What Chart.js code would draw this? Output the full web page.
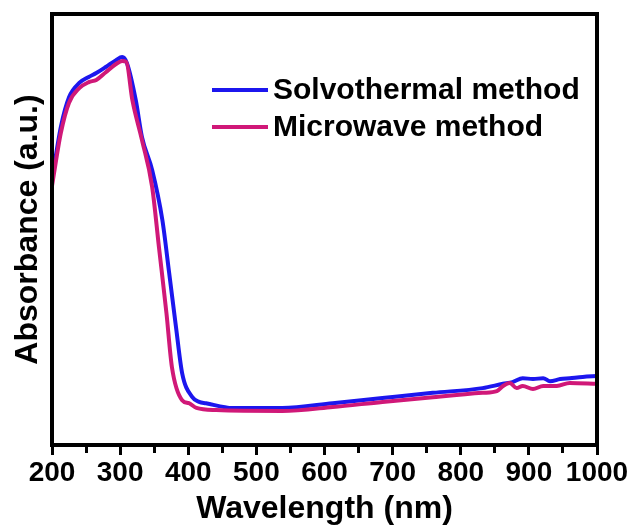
<!DOCTYPE html>
<html>
<head>
<meta charset="utf-8">
<script src="https://cdn.jsdelivr.net/npm/chart.js@4.4.0/dist/chart.umd.min.js"></script>
<style>
  html, body { margin: 0; padding: 0; background: #fff; }
  #wrap { width: 633px; height: 527px; }
</style>
</head>
<body>
<div id="wrap"><canvas id="uvChart" width="633" height="527"></canvas></div>
<script>
// UV-vis absorbance (arbitrary units, 0-100)
const seriesNames = ['Solvothermal method', 'Microwave method'];

const solvoWavelength = [200, 213, 225, 240, 254, 265, 279, 294, 303, 310, 323, 332, 347, 362, 372, 382, 391, 406, 416, 426, 465, 538, 612, 685, 759, 832, 862, 876, 891, 906, 921, 931, 946, 960, 979, 1000];
const solvoAbsorbance = [61.5, 73.8, 80.7, 84.0, 85.4, 86.3, 87.7, 89.3, 90.0, 88.6, 80.0, 71.5, 63.8, 52.2, 39.9, 27.4, 16.7, 11.1, 10.0, 9.7, 8.6, 8.6, 9.7, 10.9, 12.1, 13.2, 14.2, 14.6, 15.5, 15.3, 15.5, 14.8, 15.3, 15.5, 15.8, 16.0];

const microWavelength = [200, 213, 225, 240, 254, 265, 279, 294, 303, 309, 318, 332, 347, 357, 368, 376, 391, 401, 412, 441, 538, 612, 685, 759, 832, 853, 862, 872, 882, 891, 906, 921, 941, 960, 1000];
const microAbsorbance = [60.1, 72.4, 79.4, 82.8, 84.2, 84.7, 86.5, 88.4, 89.1, 88.9, 80.0, 70.8, 59.9, 45.9, 30.6, 18.1, 10.4, 9.7, 8.6, 8.1, 7.9, 8.8, 10.0, 11.1, 12.1, 12.5, 13.7, 14.4, 13.2, 13.7, 13.0, 13.7, 13.7, 14.4, 14.2];

const xMin = 200, xMax = 1000, xStep = 50;

const FONT = "'Liberation Sans', Arial, sans-serif";

function toPoints(xs, ys) {
    return xs.map((x, i) => ({ x: x, y: ys[i] }));
}

// black frame round the plot area
const framePlugin = {
    id: 'frame',
    afterDatasetsDraw(chart) {
        const a = chart.chartArea;
        const ctx = chart.ctx;
        ctx.save();
        ctx.strokeStyle = '#000';
        ctx.lineWidth = 4;
        ctx.strokeRect(a.left, a.top, a.right - a.left, a.bottom - a.top);
        ctx.restore();
    }
};

// legend drawn inside the plot, top right
const insideLegend = {
    id: 'insideLegend',
    afterDatasetsDraw(chart, args, opts) {
        const ctx = chart.ctx;
        ctx.save();
        ctx.font = 'bold 30px ' + FONT;
        ctx.textBaseline = 'middle';
        ctx.textAlign = 'left';
        chart.data.datasets.forEach((ds, i) => {
            const y = opts.y + i * opts.rowGap;
            ctx.strokeStyle = ds.borderColor;
            ctx.lineWidth = 4;
            ctx.beginPath();
            ctx.moveTo(opts.x, y);
            ctx.lineTo(opts.x + opts.lineLen, y);
            ctx.stroke();
            ctx.fillStyle = '#000';
            ctx.fillText(ds.label, opts.x + opts.lineLen + 5, y + 1);
        });
        ctx.restore();
    }
};

const ctx = document.getElementById('uvChart').getContext('2d');
new Chart(ctx, {
    type: 'line',
    data: {
        datasets: [
            {
                label: seriesNames[0],
                data: toPoints(solvoWavelength, solvoAbsorbance),
                borderColor: 'rgb(28, 22, 238)',
                borderWidth: 4,
                pointRadius: 0,
                cubicInterpolationMode: 'monotone',
                fill: false,
                order: 2
            },
            {
                label: seriesNames[1],
                data: toPoints(microWavelength, microAbsorbance),
                borderColor: 'rgb(208, 24, 120)',
                borderWidth: 4,
                pointRadius: 0,
                cubicInterpolationMode: 'monotone',
                fill: false,
                order: 1
            }
        ]
    },
    options: {
        responsive: false,
        animation: false,
        layout: { padding: { left: 9, top: 14, right: 36, bottom: 2 } },
        plugins: {
            legend: { display: false },
            tooltip: { enabled: false },
            insideLegend: { x: 212, y: 90, rowGap: 37, lineLen: 56 }
        },
        scales: {
            x: {
                type: 'linear',
                min: xMin,
                max: xMax,
                border: { display: true, color: '#000', width: 4 },
                grid: {
                    display: true,
                    drawOnChartArea: false,
                    drawTicks: true,
                    tickLength: 10,
                    tickWidth: 3,
                    tickColor: '#000',
                    tickBorderDash: (c) => (c.tick && c.tick.value % 100 !== 0) ? [6, 30] : []
                },
                ticks: {
                    stepSize: xStep,
                    autoSkip: false,
                    maxRotation: 0,
                    padding: 4,
                    color: '#000',
                    font: { family: FONT, size: 28, weight: 'bold', lineHeight: 1 },
                    callback: (v) => v % 100 === 0 ? String(v) : ''
                },
                title: {
                    display: true,
                    text: 'Wavelength (nm)',
                    color: '#000',
                    font: { family: FONT, size: 32, weight: 'bold', lineHeight: 1 },
                    padding: { top: 2, bottom: 0 }
                }
            },
            y: {
                min: 0,
                max: 100,
                border: { display: true, color: '#000', width: 4 },
                grid: { display: false },
                ticks: { display: false },
                title: {
                    display: true,
                    text: 'Absorbance (a.u.)',
                    color: '#000',
                    font: { family: FONT, size: 32, weight: 'bold', lineHeight: 1 },
                    padding: { top: 3, bottom: 0 }
                }
            }
        }
    },
    plugins: [framePlugin, insideLegend]
});
</script>
</body>
</html>
